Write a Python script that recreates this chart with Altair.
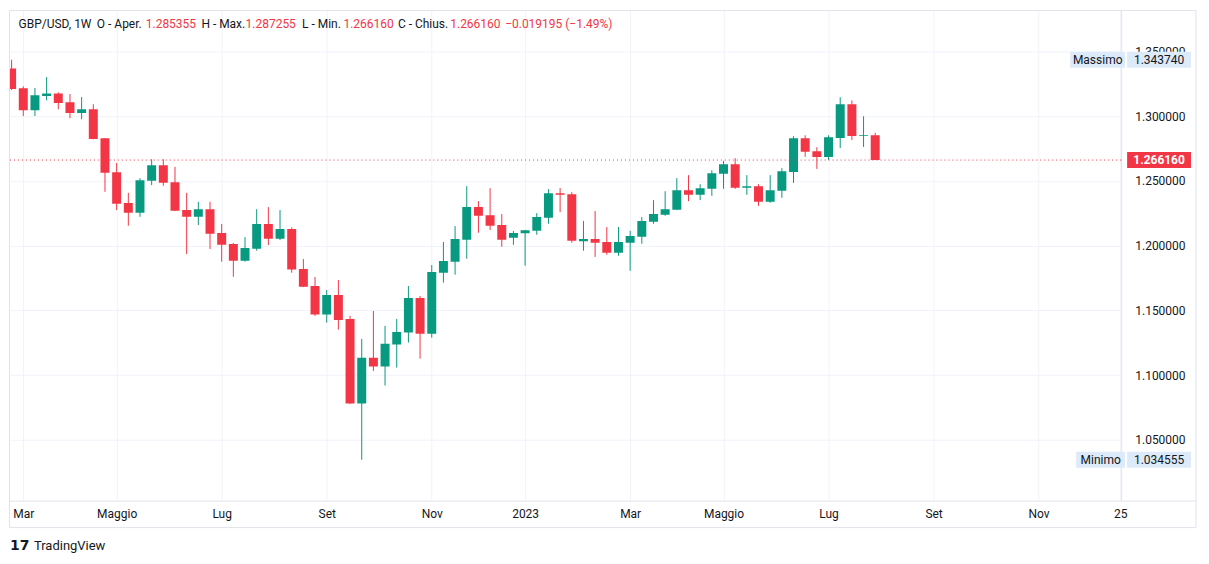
import altair as alt
import pandas as pd

# ---------------- data (weekly GBP/USD candles) ----------------
first_week = "2022-02-28"
opens = [1.3370, 1.3216, 1.3046, 1.3157, 1.3177, 1.3108, 1.3026, 1.3054, 1.2830, 1.2568,
         1.2329, 1.2254, 1.2501, 1.2622, 1.2491, 1.2275, 1.2223, 1.2282, 1.2097, 1.2012,
         1.1884, 1.1976, 1.2167, 1.2053, 1.2128, 1.1819, 1.1688, 1.1467, 1.1619, 1.1434,
         1.0780, 1.1133, 1.1066, 1.1236, 1.1328, 1.1596, 1.1320, 1.1791, 1.1876, 1.2046,
         1.2298, 1.2236, 1.2159, 1.2061, 1.2095, 1.2115, 1.2216, 1.2406, 1.2398, 1.2035,
         1.2051, 1.2028, 1.1945, 1.2023, 1.2069, 1.2185, 1.2239, 1.2277, 1.2429, 1.2393,
         1.2439, 1.2555, 1.2630, 1.2447, 1.2460, 1.2339, 1.2424, 1.2570, 1.2830, 1.2730,
         1.2686, 1.2833, 1.3093, 1.2848, 1.285355]
highs = [1.343740, 1.3231, 1.3219, 1.3303, 1.3185, 1.3172, 1.3149, 1.3093, 1.2832, 1.2640,
         1.2408, 1.2522, 1.2668, 1.2668, 1.2609, 1.2408, 1.2339, 1.2339, 1.2167, 1.2020,
         1.2066, 1.2282, 1.2298, 1.2275, 1.2141, 1.1897, 1.1758, 1.1657, 1.1735, 1.1457,
         1.1279, 1.1495, 1.1380, 1.1434, 1.1688, 1.1611, 1.1850, 1.2028, 1.2151, 1.2460,
         1.2344, 1.2444, 1.2244, 1.2113, 1.2122, 1.2252, 1.2437, 1.2446, 1.2414, 1.2191,
         1.2268, 1.2144, 1.2144, 1.2115, 1.2221, 1.2352, 1.2421, 1.2522, 1.2545, 1.2475,
         1.2583, 1.2655, 1.2676, 1.2545, 1.2475, 1.2545, 1.2599, 1.2846, 1.2853, 1.2761,
         1.2853, 1.3147, 1.3123, 1.3000, 1.287255]
lows = [1.3203, 1.3002, 1.3002, 1.3123, 1.3054, 1.2985, 1.2977, 1.2822, 1.2416, 1.2275,
        1.2154, 1.2223, 1.2468, 1.2463, 1.2268, 1.1935, 1.2159, 1.1974, 1.1876, 1.1760,
        1.1876, 1.1961, 1.2005, 1.2043, 1.1791, 1.1680, 1.1457, 1.1405, 1.1351, 1.0778,
        1.034555, 1.1032, 1.0919, 1.1058, 1.1251, 1.1127, 1.1289, 1.1714, 1.1776, 1.1899,
        1.2100, 1.2120, 1.1992, 1.2007, 1.1845, 1.2084, 1.2169, 1.2259, 1.2023, 1.1961,
        1.1913, 1.1930, 1.1922, 1.1806, 1.2015, 1.2169, 1.2231, 1.2275, 1.2344, 1.2352,
        1.2385, 1.2439, 1.2439, 1.2393, 1.2308, 1.2331, 1.2370, 1.2485, 1.2686, 1.2593,
        1.2663, 1.2755, 1.2817, 1.2763, 1.266160]
closes = [1.3211, 1.3046, 1.3162, 1.3177, 1.3103, 1.3026, 1.3054, 1.2825, 1.2563, 1.2323,
          1.2254, 1.2506, 1.2622, 1.2486, 1.2270, 1.2223, 1.2282, 1.2092, 1.2007, 1.1884,
          1.1981, 1.2167, 1.2053, 1.2128, 1.1815, 1.1683, 1.1467, 1.1619, 1.1426, 1.0780,
          1.1133, 1.1066, 1.1241, 1.1333, 1.1596, 1.1320, 1.1796, 1.1881, 1.2051, 1.2298,
          1.2231, 1.2154, 1.2046, 1.2097, 1.2120, 1.2221, 1.2406, 1.2393, 1.2038, 1.2051,
          1.2023, 1.1945, 1.2028, 1.2074, 1.2190, 1.2244, 1.2282, 1.2429, 1.2393, 1.2444,
          1.2560, 1.2630, 1.2447, 1.2460, 1.2339, 1.2429, 1.2576, 1.2830, 1.2725, 1.2686,
          1.2838, 1.3093, 1.2848, 1.285355, 1.266160]

tick_dates = ["2022-03-07", "2022-05-02", "2022-07-04", "2022-09-05", "2022-11-07", "2023-01-02",
              "2023-03-06", "2023-05-01", "2023-07-03", "2023-09-04", "2023-11-06", "2023-12-25"]
tick_labels = ["Mar", "Maggio", "Lug", "Set", "Nov", "2023", "Mar", "Maggio", "Lug", "Set", "Nov", "25"]
price_ticks = [1.05, 1.10, 1.15, 1.20, 1.25, 1.30, 1.35]

last_price, last_label = 1.266160, "1.266160"
max_price, max_label = 1.343740, "1.343740"
min_price, min_label = 1.034555, "1.034555"

legend_parts = ["GBP/USD, 1W", "O - Aper.", "1.285355", "H - Max.", "1.287255", "L - Min.",
                "1.266160", "C - Chius.", "1.266160", "\u22120.019195 (\u22121.49%)"]
legend_is_value = [False, False, True, False, True, False, True, False, True, True]

# ---------------- styling / layout ----------------
GREEN, RED = "#089981", "#F23645"
TEXT, GRID, FRAME = "#131722", "#F0F3FA", "#E0E3EB"
LABEL_BG = "#DDEAF9"
FONT = "Roboto"
W, H = 1113, 491

def to_ms(s):
    return int(pd.Timestamp(s, tz="UTC").timestamp() * 1000)

dates = pd.date_range(first_week, periods=len(opens), freq="7D").strftime("%Y-%m-%d").tolist()
df = pd.DataFrame({"date": dates, "open": opens, "high": highs, "low": lows, "close": closes})
df["dir"] = ["up" if c >= o else "down" for o, c in zip(opens, closes)]

tick_ms = [to_ms(d) for d in tick_dates]
label_expr = " : ".join(f"time(datum.value) == {m} ? '{l}'" for m, l in zip(tick_ms, tick_labels)) + " : ''"

xs = alt.Scale(type="utc", domain=[to_ms("2022-02-27 00:48"), to_ms("2023-12-25 12:00")],
               nice=False, padding=0)
ys = alt.Scale(domain=[1.00293, 1.38179], nice=False, zero=False, padding=0)

x_axis = alt.Axis(values=tick_ms, labelExpr=label_expr, title=None, grid=True, gridColor=GRID,
                  gridWidth=1, domain=False, ticks=False, tickSize=0, labelPadding=8,
                  labelFlush=False, labelOverlap=False, labelAngle=0, labelFont=FONT,
                  labelFontSize=12, labelColor=TEXT)
y_axis = alt.Axis(orient="right", values=price_ticks, format=".6f", title=None, grid=True,
                  gridColor=GRID, gridWidth=1, domain=False, ticks=False, tickSize=0,
                  labelPadding=64, labelAlign="right", labelBaseline="middle",
                  labelOverlap=False, labelFont=FONT, labelFontSize=12, labelColor=TEXT)

X = alt.X("date:T", scale=xs, axis=x_axis)
color = alt.Color("dir:N", scale=alt.Scale(domain=["up", "down"], range=[GREEN, RED]), legend=None)

one = pd.DataFrame({"k": [0]})

frame = alt.Chart(one).mark_rect(fillOpacity=0, stroke=FRAME, strokeWidth=1).encode(
    x=alt.value(-0.5), x2=alt.value(1188), y=alt.value(0), y2=alt.value(518))
hsep = alt.Chart(one).mark_rule(color=FRAME, strokeWidth=1).encode(
    x=alt.value(0), x2=alt.value(1188), y=alt.value(491.5))
vsep = alt.Chart(one).mark_rule(color=FRAME, strokeWidth=1).encode(
    x=alt.value(1113.5), y=alt.value(0), y2=alt.value(491))

wicks = alt.Chart(df).mark_rule(strokeWidth=1, clip=True).encode(
    x=X, y=alt.Y("low:Q", scale=ys, axis=y_axis), y2="high:Q", color=color)
bodies = alt.Chart(df).mark_bar(size=9, clip=True).encode(
    x=X, y=alt.Y("open:Q", scale=ys, axis=y_axis), y2="close:Q", color=color)

last_df = pd.DataFrame({"price": [last_price], "label": [last_label]})
price_line = alt.Chart(last_df).mark_rule(color=RED, strokeWidth=1, strokeDash=[1, 3]).encode(
    x=alt.value(0), x2=alt.value(1113), y=alt.Y("price:Q", scale=ys, axis=y_axis))
price_box = alt.Chart(last_df).mark_rect(color=RED, yOffset=-8, y2Offset=8).encode(
    x=alt.value(1119), x2=alt.value(1183), y=alt.Y("price:Q", scale=ys, axis=y_axis), y2="price:Q")
price_txt = alt.Chart(last_df).mark_text(color="white", font=FONT, fontSize=12, fontWeight="bold",
                                         align="center", baseline="middle").encode(
    x=alt.value(1151), y=alt.Y("price:Q", scale=ys, axis=y_axis), text="label:N")

extreme_layers = []
for name, price, lab, left in [("Massimo", max_price, max_label, 1062), ("Minimo", min_price, min_label, 1068)]:
    edf = pd.DataFrame({"price": [price], "name": [name], "label": [lab]})
    yenc = alt.Y("price:Q", scale=ys, axis=y_axis)
    extreme_layers += [
        alt.Chart(edf).mark_rect(color=LABEL_BG, yOffset=-8, y2Offset=8).encode(
            x=alt.value(left), x2=alt.value(1117), y=yenc, y2="price:Q"),
        alt.Chart(edf).mark_rect(color=LABEL_BG, yOffset=-8, y2Offset=8).encode(
            x=alt.value(1119), x2=alt.value(1183), y=yenc, y2="price:Q"),
        alt.Chart(edf).mark_text(color=TEXT, font=FONT, fontSize=12, align="center",
                                 baseline="middle").encode(
            x=alt.value((left + 1117) / 2), y=yenc, text="name:N"),
        alt.Chart(edf).mark_text(color=TEXT, font=FONT, fontSize=12, align="center",
                                 baseline="middle").encode(
            x=alt.value(1151), y=yenc, text="label:N"),
    ]

legend_x = [8.6, 87, 136, 191.7, 236, 292.5, 334, 388.6, 441, 496]
legend_layers = []
for txt, is_val, lx in zip(legend_parts, legend_is_value, legend_x):
    legend_layers.append(
        alt.Chart(pd.DataFrame({"t": [txt]})).mark_text(
            font=FONT, fontSize=12, align="left", baseline="middle",
            color=RED if is_val else TEXT).encode(
            x=alt.value(lx), y=alt.value(14), text="t:N"))

logo_icon = alt.Chart(pd.DataFrame({"t": ["17"]})).mark_text(
    font="DejaVu Sans", fontSize=14, fontWeight=900, align="left", baseline="middle",
    color=TEXT).encode(x=alt.value(0), y=alt.value(536), text="t:N")
logo_text = alt.Chart(pd.DataFrame({"t": ["TradingView"]})).mark_text(
    font=FONT, fontSize=13, align="left", baseline="middle", color=TEXT).encode(
    x=alt.value(24), y=alt.value(536), text="t:N")

chart = alt.layer(
    frame, hsep, vsep, wicks, bodies, price_line, price_box, price_txt,
    *extreme_layers, *legend_layers, logo_icon, logo_text
).properties(
    width=W, height=H,
    autosize=alt.AutoSizeParams(type="none"),
    padding={"left": 2, "top": 2, "right": 80, "bottom": 56},
    background="white",
).configure_view(stroke=None)

chart.save("out.html", embed_options={"renderer": "svg", "actions": False})
